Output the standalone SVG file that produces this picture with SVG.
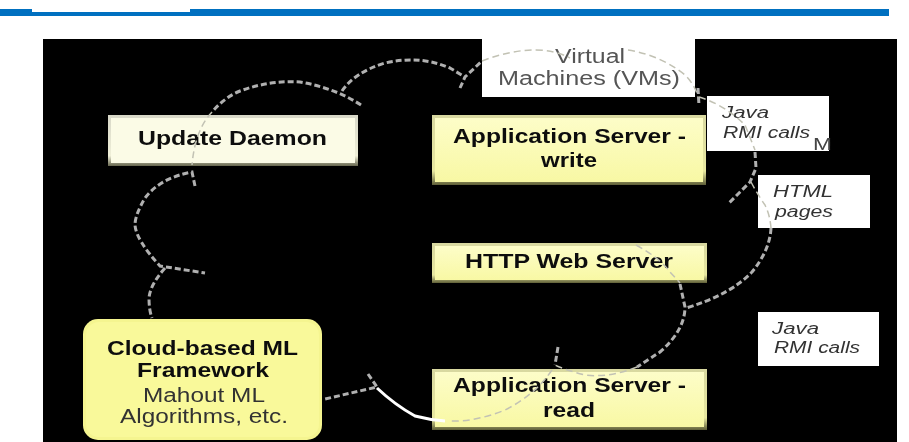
<svg xmlns="http://www.w3.org/2000/svg" width="909" height="442" viewBox="0 0 909 442">
<defs>
<linearGradient id="ybev" x1="0" y1="0" x2="0" y2="1"><stop offset="0" stop-color="#d8d8a0"/><stop offset="0.8" stop-color="#e8e8a0"/><stop offset="1" stop-color="#5f5f38"/></linearGradient>
<linearGradient id="cbev" x1="0" y1="0" x2="0" y2="1"><stop offset="0" stop-color="#d8d8c8"/><stop offset="0.8" stop-color="#efefd8"/><stop offset="1" stop-color="#66664e"/></linearGradient>
<linearGradient id="yfill" x1="0" y1="0" x2="0" y2="1"><stop offset="0" stop-color="#fdfdc8"/><stop offset="1" stop-color="#f8f8a4"/></linearGradient>
<filter id="soft" x="-2%" y="-2%" width="104%" height="104%"><feGaussianBlur stdDeviation="0.5"/></filter>
</defs>
<style>
text{font-family:"Liberation Sans",Arial,sans-serif;fill:#111}
.b{font-weight:bold;font-size:20px}
.r{font-size:20px;fill:#333}
.i{font-style:italic;font-size:16px;fill:#333}
.v{font-size:20px;fill:#555}
.w{fill:#fff}
.dash{fill:none;stroke:#b0b0b0;stroke-width:3;stroke-dasharray:6 3}
.thin{fill:none;stroke:#c2c2b4;stroke-width:1.5;stroke-dasharray:7 4}
.solid{fill:none;stroke:#fff;stroke-width:3}
</style>
<rect width="909" height="442" fill="#fff"/>
<g id="header">
<rect x="0" y="9" width="889" height="7" fill="#0070c0"/>
<rect x="32" y="0" width="158" height="12" fill="#fff"/>
</g>
<rect id="backdrop" x="43" y="39" width="854" height="403" fill="#000"/>
<g filter="url(#soft)">
<g id="label-vms">
<rect class="w" x="482" y="39" width="213" height="58"/>
<text class="v" x="555" y="63" textLength="70" lengthAdjust="spacingAndGlyphs">Virtual</text>
<text class="v" x="498" y="85" textLength="182" lengthAdjust="spacingAndGlyphs">Machines (VMs)</text>
</g>
<g id="label-java-write">
<rect class="w" x="707" y="96" width="122" height="55"/>
<text class="i" x="722" y="118" textLength="47" lengthAdjust="spacingAndGlyphs">Java</text>
<text class="i" x="723" y="138" textLength="87" lengthAdjust="spacingAndGlyphs">RMI calls</text>
<text x="813" y="150" font-size="17" style="fill:#444" textLength="19" lengthAdjust="spacingAndGlyphs">M</text>
</g>
<g id="label-html">
<rect class="w" x="758" y="175" width="112" height="53"/>
<text class="i" x="773" y="197" textLength="60" lengthAdjust="spacingAndGlyphs">HTML</text>
<text class="i" x="775" y="217" textLength="58" lengthAdjust="spacingAndGlyphs">pages</text>
</g>
<g id="label-java-read">
<rect class="w" x="758" y="312" width="121" height="54"/>
<text class="i" x="772" y="334" textLength="47" lengthAdjust="spacingAndGlyphs">Java</text>
<text class="i" x="774" y="353" textLength="86" lengthAdjust="spacingAndGlyphs">RMI calls</text>
</g>
<g id="update-daemon">
<rect x="108" y="115" width="250" height="51" fill="url(#cbev)"/>
<rect x="111" y="118" width="244" height="45" fill="#fbfbe6"/>
<text class="b" x="138" y="145" textLength="189" lengthAdjust="spacingAndGlyphs">Update Daemon</text>
</g>
<g id="app-server-write">
<rect x="432" y="115" width="274" height="70" fill="url(#ybev)"/>
<rect x="435" y="118" width="268" height="64" fill="url(#yfill)"/>
<text class="b" x="453" y="143" textLength="233" lengthAdjust="spacingAndGlyphs">Application Server -</text>
<text class="b" x="541" y="167" textLength="56" lengthAdjust="spacingAndGlyphs">write</text>
</g>
<g id="http-web-server">
<rect x="432" y="243" width="275" height="40" fill="url(#ybev)"/>
<rect x="435" y="246" width="269" height="34" fill="url(#yfill)"/>
<text class="b" x="465" y="268" textLength="208" lengthAdjust="spacingAndGlyphs">HTTP Web Server</text>
</g>
<g id="app-server-read">
<rect x="432" y="369" width="275" height="61" fill="url(#ybev)"/>
<rect x="435" y="372" width="269" height="55" fill="url(#yfill)"/>
<text class="b" x="453" y="392" textLength="233" lengthAdjust="spacingAndGlyphs">Application Server -</text>
<text class="b" x="543" y="417" textLength="52" lengthAdjust="spacingAndGlyphs">read</text>
</g>
<g id="cloud-ml-framework">
<rect x="83" y="319" width="239" height="121" rx="15" fill="#f5f590"/>
<rect x="86" y="322" width="233" height="115" rx="13" fill="#f9f99a"/>
<text class="b" x="107" y="355" textLength="191" lengthAdjust="spacingAndGlyphs">Cloud-based ML</text>
<text class="b" x="137" y="377" textLength="132" lengthAdjust="spacingAndGlyphs">Framework</text>
<text class="r" x="143" y="402" textLength="122" lengthAdjust="spacingAndGlyphs">Mahout ML</text>
<text class="r" x="120" y="423" textLength="168" lengthAdjust="spacingAndGlyphs">Algorithms, etc.</text>
</g>
<g id="connectors">
<path class="dash" d="M361 105Q335 88 300 82Q270 80 240 91Q225 97 212 112"/>
<path class="thin" d="M212 112Q195 130 192 165"/>
<path class="dash" d="M342 91Q355 72 385 63Q420 55 450 68L465 77"/>
<path class="dash" d="M460 88L465 77L482 61"/>
<path class="thin" d="M482 61Q510 50 535 50Q555 50 570 58M628 50Q660 55 685 75Q695 85 698 97"/>
<path class="dash" d="M698 88L699 106"/>
<path class="thin" d="M699 97Q725 105 745 125L755 150"/>
<path class="dash" d="M755 152L756 168L750 182L728 204"/>
<path class="thin" d="M751 182Q758 195 765 205Q770 215 771 228"/>
<path class="dash" d="M771 228Q770 250 752 272Q730 295 686 308"/>
<path class="thin" d="M636 245Q660 258 670 272L680 283"/>
<path class="dash" d="M680 284L685 307Q685 330 660 352Q640 365 637 367"/>
<path class="thin" d="M637 367Q610 378 585 375Q565 370 555 365"/>
<path class="dash" d="M558 347L555 365"/>
<path class="thin" d="M552 370Q535 395 505 410Q475 422 450 421"/>
<path class="solid" d="M377 388Q395 405 415 416Q430 420 445 421"/>
<path class="dash" d="M368 374L377 387L325 399"/>
<path class="dash" d="M195 186L192 172Q160 178 145 198Q135 215 135 225Q136 240 160 266L205 273"/>
<path class="dash" d="M165 268Q150 285 149 298Q149 310 152 318"/>
</g>
</g>
</svg>
